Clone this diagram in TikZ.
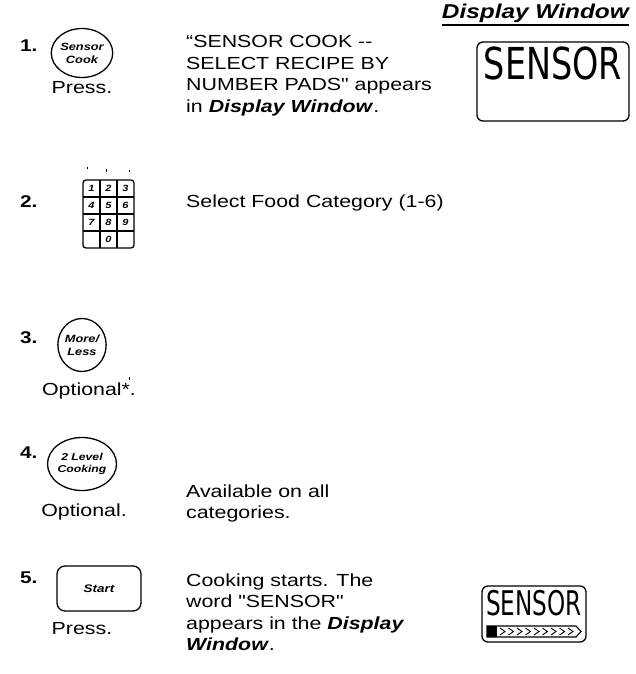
\documentclass[tikz,border=0pt]{standalone}
\usepackage{fontspec}
\setmainfont{Liberation Sans}[Ligatures=TeXOff,FakeStretch=1.22]
\newfontfamily\lcdfont{DejaVu Sans}
\usetikzlibrary{shapes.geometric,calc}
\begin{document}
\begin{tikzpicture}[x=1pt,y=-1pt,
  txt/.style={anchor=base west,font=\fontsize{17.5}{21}\selectfont,inner sep=0},
  lbl/.style={anchor=base,font=\fontsize{17.5}{21}\selectfont,inner sep=0},
  num/.style={anchor=base west,font=\fontsize{17}{17}\selectfont\bfseries,inner sep=0},
  btn/.style={draw,line width=1.3pt,ellipse,minimum width=48pt,minimum height=53pt,inner sep=0,align=center,font=\fontsize{10.5}{13}\selectfont\bfseries\itshape},
  lcd/.style={draw,line width=1.3pt,rounded corners=6pt},
  lcdtxt/.style={inner sep=0,font=\lcdfont\fontsize{44}{44}\selectfont},
  key/.style={inner sep=0,font=\fontsize{9}{9}\selectfont\bfseries\itshape},
  speck/.style={line width=0.6pt}
]
\useasboundingbox (0,0) rectangle (635,674);
% title
\node[anchor=base east,inner sep=0,font=\fontsize{20}{20}\selectfont\bfseries\itshape] (title) at (629,19) {Display Window};
\fill[black] (title.base west |- 0,24) rectangle (title.base east |- 0,26);
% row 1
\node[num] (n1) at (20,52) {1.};
\node[btn,minimum height=49pt] (b1) at (82,53) {Sensor\\Cook};
\node[lbl] (p1) at (82,94) {Press.};
\node[txt] (t1a) at (186,48) {“SENSOR COOK --};
\node[txt] (t1b) at (186,69.5) {SELECT RECIPE BY};
\node[txt] (t1c) at (186,91) {NUMBER PADS" appears};
\node[txt] (t1d) at (186,112.5) {in \textbf{\textit{Display Window}}.};
\draw[lcd] (477,42) rectangle (629,121);
\node[lcdtxt] (s1) at (553,63) {\scalebox{0.76}[1]{SENSOR}};
% row 2
\node[num] (n2) at (20,207) {2.};
\draw[line width=1.3pt,rounded corners=3pt] (83,180) rectangle (134,248);
\foreach \x in {100,117} \draw[line width=1.1pt] (\x,180) -- (\x,248);
\foreach \y in {197,214,231} \draw[line width=1.1pt] (83,\y) -- (134,\y);
\foreach \k/\x/\y in {1/91.5/188.5,2/108.5/188.5,3/125.5/188.5,4/91.5/205.5,5/108.5/205.5,6/125.5/205.5,7/91.5/222.5,8/108.5/222.5,9/125.5/222.5,0/108.5/239.5}
  \node[key] (k\k) at (\x,\y) {\k};
\draw[speck] (87,167) -- (87,169);
\draw[speck] (106,169) -- (106,172);
\draw[speck] (129,170) -- (129,172);
\node[txt] (t2) at (186,207) {Select Food Category (1-6)};
% row 3
\node[num] (n3) at (20,343) {3.};
\node[btn] (b3) at (82,345) {More/\\Less};
\node[lbl] (p3) at (89,395) {Optional*.};
\draw[speck] (129,377) -- (129,380);
% row 4
\node[num] (n4) at (20,458) {4.};
\node[btn,font=\fontsize{10}{12.5}\selectfont\bfseries\itshape] (b4) at (82,464) {2 Level\\Cooking};
\node[lbl] (p4) at (84,516) {Optional.};
\node[txt] (t4a) at (186,497) {Available on all};
\node[txt] (t4b) at (186,518.5) {categories.};
% row 5
\node[num] (n5) at (20,583) {5.};
\draw[line width=1.3pt,rounded corners=8pt] (57,566) rectangle (141,611);
\node[inner sep=0,font=\fontsize{11}{13}\selectfont\bfseries\itshape] (st) at (99,589) {Start};
\node[lbl] (p5) at (82,634) {Press.};
\node[txt] (t5a) at (186,586) {Cooking starts. The};
\node[txt] (t5b) at (186,607.5) {word "SENSOR"};
\node[txt] (t5c) at (186,629) {appears in the \textbf{\textit{Display}}};
\node[txt] (t5d) at (186,650.5) {\textbf{\textit{Window}}.};
\draw[lcd] (482,586) rectangle (586,642);
\node[lcdtxt,font=\lcdfont\fontsize{34}{34}\selectfont] (s5) at (534,603) {\scalebox{0.68}[1]{SENSOR}};
\draw[line width=1.1pt] (487,626) -- (576,626) -- (581,631.5) -- (576,637) -- (487,637) -- cycle;
\fill (487,626) rectangle (497,637);
\foreach \i in {0,...,8} \draw[line width=0.9pt] (500+\i*8.5,628) -- (505+\i*8.5,631.5) -- (500+\i*8.5,635);
\end{tikzpicture}
\end{document}
